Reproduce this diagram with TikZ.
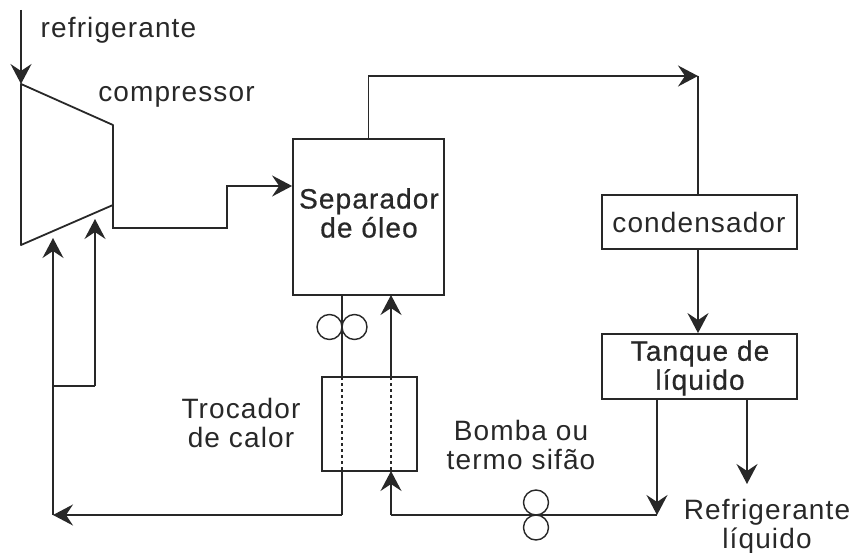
\documentclass[tikz,border=0pt]{standalone}
\usepackage{fontspec}
\setmainfont[LetterSpace=4]{Liberation Sans}
\newfontfamily\headfont[LetterSpace=4, FakeBold=0.6]{Liberation Sans}
\usetikzlibrary{arrows.meta, positioning}
\definecolor{inkgray}{RGB}{40, 40, 40}
\tikzset{
  flow/.style={draw=inkgray, line width=1.8pt, -{Stealth[length=20pt, width=21pt, inset=7pt]}},
  pipe/.style={draw=inkgray, line width=1.8pt},
  inner/.style={draw=inkgray, line width=1.8pt, dash pattern=on 3pt off 3pt},
  unitbox/.style={draw=inkgray, line width=1.8pt, inner sep=0pt},
  lbl/.style={font=\fontsize{28}{29}\selectfont, text=inkgray, align=center, inner sep=0pt},
  head/.style={font=\headfont\fontsize{28}{29}\selectfont, text=inkgray, align=center, inner sep=0pt},
  valve/.style={circle, draw=inkgray, line width=1.4pt, minimum size=25pt, inner sep=0pt}
}
\begin{document}
\begin{tikzpicture}[x=1pt, y=-1pt]
    \useasboundingbox (0,0) rectangle (853,553);
    % equipment
    \node[unitbox, minimum width=151pt, minimum height=156pt] (sep) at (368.5,217) {};
    \node[unitbox, minimum width=195pt, minimum height=54pt] (cond) at (699.5,222) {};
    \node[unitbox, minimum width=195pt, minimum height=65pt] (tank) at (699.5,366.5) {};
    \node[unitbox, minimum width=95pt, minimum height=94pt] (exch) at (369.5,424) {};
    % compressor
    \coordinate (c1) at (21,84);
    \coordinate (c2) at (113,125);
    \coordinate (c3) at (113,205);
    \coordinate (c4) at (21,245);
    \draw[pipe, line join=round] (c1) -- (c2) -- (c3) -- (c4) -- cycle;
    % labels
    \node[lbl] (lref) at (118.5,30) {refrigerante};
    \node[lbl] (lcomp) at (176.5,97) {compressor};
    \node[head] (lsep) at (369,213) {Separador\\de óleo};
    \node[lbl] (lcond) at (699,222) {condensador};
    \node[head] (ltank) at (700,368) {Tanque de\\líquido};
    \node[lbl] (ltroc) at (241,423) {Trocador\\de calor};
    \node[lbl] (lbomb) at (521,445) {Bomba ou\\termo sifão};
    \node[lbl] (lrefl) at (767,527) {Refrigerante\\líquido};
    % free ends and bends
    \coordinate (start) at (21,10);
    \coordinate (b1) at (113,228);
    \coordinate (b2) at (227,228);
    \coordinate (b3) at (227,186);
    \coordinate (top1) at (368,76);
    \coordinate (top2) at (698,76);
    \coordinate (oilout) at (342,295);
    \coordinate (oilin) at (391,295);
    \coordinate (exout) at (342,377);
    \coordinate (exin) at (391,377);
    \coordinate (exout2) at (342,471);
    \coordinate (exin2) at (391,471);
    \coordinate (low1) at (342,515);
    \coordinate (low2) at (391,515);
    \coordinate (back) at (53,515);
    \coordinate (tip1) at (53,238);
    \coordinate (tip2) at (95,219);
    \coordinate (split) at (53,386);
    \coordinate (corner) at (95,386);
    \coordinate (tk1) at (657,399);
    \coordinate (tk2) at (747,399);
    \coordinate (join) at (657,515);
    \coordinate (prod) at (747,484);
    % refrigerant circuit
    \draw[flow] (start) -- (c1);
    \draw[flow] (c3) -- (b1) -- (b2) -- (b3) -- (sep.west |- b3);
    \draw[flow] (sep.north) -- (sep.north |- top1) -- (top2);
    \draw[pipe] (top2) -- (top2 |- cond.north);
    \draw[flow] (cond.south -| top2) -- (top2 |- tank.north);
    \draw[flow] (tk1) -- (join);
    \draw[flow] (tk2) -- (prod);
    \draw[pipe] (join) -- (low2);
    \draw[flow] (low2) -- (exin2);
    \draw[flow] (exin) -- (oilin);
    % oil return
    \draw[pipe] (oilout) -- (exout);
    \draw[inner] (exout) -- (exout2);
    \draw[inner] (exin) -- (exin2);
    \draw[pipe] (exout2) -- (low1);
    \draw[flow] (low1) -- (back);
    \draw[flow] (back) -- (tip1);
    \draw[pipe] (split) -- (corner);
    \draw[flow] (corner) -- (tip2);
    % pumps
    \node[valve] (p1) at (329.5,327) {};
    \node[valve] (p2) at (354.5,327) {};
    \node[valve] (p3) at (536,502.5) {};
    \node[valve] (p4) at (536,527.5) {};
\end{tikzpicture}
\end{document}
